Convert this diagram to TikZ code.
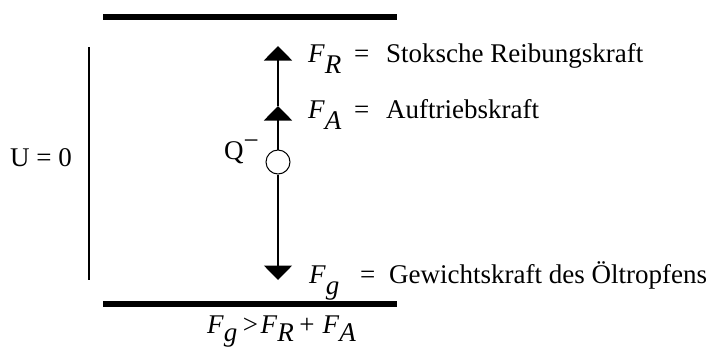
\documentclass[tikz,border=0pt]{standalone}
\usepackage{fontspec}
\setmainfont{Liberation Serif}
\usetikzlibrary{arrows.meta}
\newcommand\Fs[1]{\textit{F}\raisebox{-0.42em}{\textit{#1}}}
\newcommand\Fb[1]{\textit{F}\raisebox{-0.33em}{\textit{#1}}}
\begin{document}
\begin{tikzpicture}[x=1pt,y=-1pt,
  txt/.style={inner sep=0pt,anchor=base west,font=\fontsize{27}{30}\selectfont},
  plate/.style={line width=5.5pt},
  force/.style={line width=1.8pt,-{Triangle[width=28pt,length=14.5pt]}},
  drop/.style={circle,draw,line width=1pt,minimum size=24pt,inner sep=0pt}]
\useasboundingbox (0,0) rectangle (708,349);
% plates
\coordinate (tl) at (103,17); \coordinate (tr) at (397,17);
\coordinate (bl) at (103,304); \coordinate (br) at (397,304);
\draw[plate] (tl) -- (tr);
\draw[plate] (bl) -- (br);
% left electrode line
\coordinate (vt) at (89,47); \coordinate (vb) at (89,280);
\draw[line width=2pt] (vt) -- (vb);
\node[txt] (U) at (10,166) {U = 0};
% drop
\node[drop] (d) at (278,162) {};
\node[txt] (Q) at (224,159) {Q\raisebox{0.37em}{−}};
% forces
\coordinate (fr) at (278,46);
\coordinate (fa) at (278,106);
\coordinate (fg) at (278,280);
\draw[force] (d.north) -- (fa);
\draw[force] (fa) -- (fr);
\draw[force] (d.south) -- (fg);
% labels
\node[txt] (lr) at (308,62) {\Fs{R}};
\node[txt] (er) at (354,62) {=};
\node[txt] (tr1) at (386,62) {Stoksche Reibungskraft};
\node[txt] (la) at (308,118) {\Fs{A}};
\node[txt] (ea) at (354,118) {=};
\node[txt] (ta) at (386,118) {Auftriebskraft};
\node[txt] (lg) at (309,283) {\Fs{g}};
\node[txt] (eg) at (360,283) {=};
\node[txt] (tg) at (389,283) {Gewichtskraft des Öltropfens};
\node[txt] (cond) at (207,333) {\Fb{g}\hspace{0.2em}>\hspace{0.1em}\Fb{R}\hspace{0.2em}+\hspace{0.3em}\Fb{A}};
\end{tikzpicture}
\end{document}
